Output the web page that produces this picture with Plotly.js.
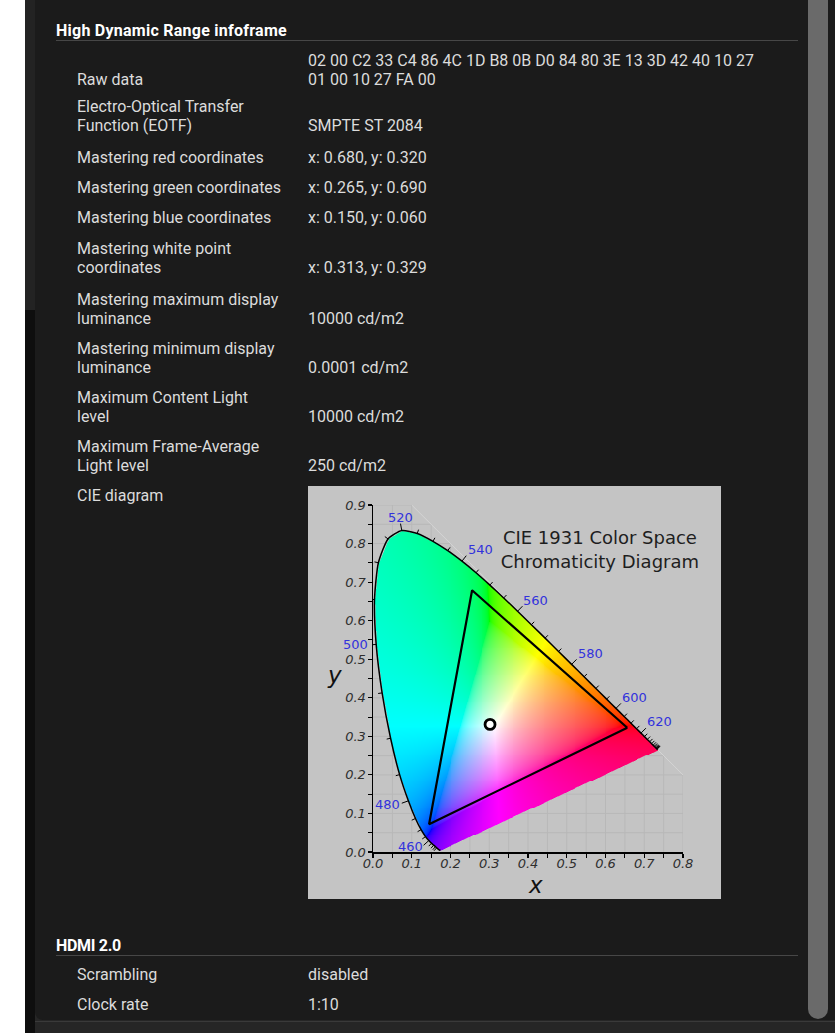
<!DOCTYPE html>
<html><head><meta charset="utf-8">
<script src="https://cdn.plot.ly/plotly-3.0.1.min.js"></script>
<style>
html,body{margin:0;padding:0;}
body{width:835px;height:1033px;overflow:hidden;background:#ffffff;position:relative;font-family:Roboto,'Noto Sans',sans-serif;}
.abs{position:absolute;}
.txt{font-size:16px;line-height:19px;color:#dcdcdc;white-space:nowrap;}
.hdr{font-size:16px;font-weight:700;line-height:19px;color:#ffffff;white-space:nowrap;}
.rule{height:1px;background:#474747;}
</style></head>
<body>
<div class="abs" style="left:25px;top:0;width:10px;height:310px;background:#232323"></div>
<div class="abs" style="left:25px;top:310px;width:10px;height:723px;background:#0e0e0e"></div>
<div class="abs" style="left:35px;top:0;width:800px;height:1033px;background:#262626"></div>
<div class="abs" style="left:35px;top:1021px;width:800px;height:1px;background:#3a3a3a"></div>
<div class="abs" style="left:35px;top:0;width:800px;height:1020px;background:#1b1b1b;border-bottom-left-radius:8px;"></div>
<div class="abs" style="left:808px;top:0;width:20px;height:1019px;background:#6a6a6a;border-radius:0 0 10px 10px"></div>
<div id="content"></div>
<div id="cie" class="abs" style="left:308px;top:486px;width:413px;height:413px"></div>
<script>
// ---------- DATA ----------
const hdrTitle = "High Dynamic Range infoframe";
const hdrLabels = [
  ["Raw data"],
  ["Electro-Optical Transfer", "Function (EOTF)"],
  ["Mastering red coordinates"],
  ["Mastering green coordinates"],
  ["Mastering blue coordinates"],
  ["Mastering white point", "coordinates"],
  ["Mastering maximum display", "luminance"],
  ["Mastering minimum display", "luminance"],
  ["Maximum Content Light", "level"],
  ["Maximum Frame-Average", "Light level"],
  ["CIE diagram"]
];
const rawBytes = ["02","00","C2","33","C4","86","4C","1D","B8","0B","D0","84","80","3E","13","3D","42","40","10","27","01","00","10","27","FA","00"];
const eotf = "SMPTE ST 2084";
const primX = [0.680, 0.265, 0.150];   // red, green, blue
const primY = [0.320, 0.690, 0.060];
const whiteX = 0.313, whiteY = 0.329;
const lumMax = 10000, lumMin = 0.0001, maxCLL = 10000, maxFALL = 250;
const lumUnit = "cd/m2";
const hdmiTitle = "HDMI 2.0";
const hdmiLabels = ["Scrambling", "Clock rate"];
const hdmiValues = ["disabled", "1:10"];

// CIE 1931 2° spectral locus (x, y) every 5 nm
const wl = [380,385,390,395,400,405,410,415,420,425,430,435,440,445,450,455,460,465,470,475,480,485,490,495,500,505,510,515,520,525,530,535,540,545,550,555,560,565,570,575,580,585,590,595,600,605,610,615,620,625,630,635,640,645,650,655,660,665,670,675,680,685,690,695,700];
const locX = [0.1741,0.1740,0.1738,0.1736,0.1733,0.1730,0.1726,0.1721,0.1714,0.1703,0.1689,0.1669,0.1644,0.1611,0.1566,0.1510,0.1440,0.1355,0.1241,0.1096,0.0913,0.0687,0.0454,0.0235,0.0082,0.0039,0.0139,0.0389,0.0743,0.1142,0.1547,0.1929,0.2296,0.2658,0.3016,0.3373,0.3731,0.4087,0.4441,0.4788,0.5125,0.5448,0.5752,0.6029,0.6270,0.6482,0.6658,0.6801,0.6915,0.7006,0.7079,0.7140,0.7190,0.7230,0.7260,0.7283,0.7300,0.7311,0.7320,0.7327,0.7334,0.7340,0.7344,0.7346,0.7347];
const locY = [0.0050,0.0050,0.0049,0.0049,0.0048,0.0048,0.0048,0.0048,0.0051,0.0058,0.0069,0.0086,0.0109,0.0138,0.0177,0.0227,0.0297,0.0399,0.0578,0.0868,0.1327,0.2007,0.2950,0.4127,0.5384,0.6548,0.7502,0.8120,0.8338,0.8262,0.8059,0.7816,0.7543,0.7243,0.6923,0.6589,0.6245,0.5896,0.5547,0.5202,0.4866,0.4544,0.4242,0.3965,0.3725,0.3514,0.3340,0.3197,0.3083,0.2993,0.2920,0.2859,0.2809,0.2770,0.2740,0.2717,0.2700,0.2689,0.2680,0.2673,0.2666,0.2660,0.2656,0.2654,0.2653];
const wlLabels = [460, 480, 500, 520, 540, 560, 580, 600, 620];
const chartTitle = "CIE 1931 Color Space<br>Chromaticity Diagram";
const xTitle = "x", yTitle = "y";
const xTicks = [0,0.1,0.2,0.3,0.4,0.5,0.6,0.7,0.8];
const yTicks = [0,0.1,0.2,0.3,0.4,0.5,0.6,0.7,0.8,0.9];

// ---------- PAGE TEXT ----------
const fmt = (x, y) => "x: " + x.toFixed(3) + ", y: " + y.toFixed(3);
const hdrValues = [
  [rawBytes.slice(0, 20).join(" "), rawBytes.slice(20).join(" ")],
  [eotf],
  [fmt(primX[0], primY[0])],
  [fmt(primX[1], primY[1])],
  [fmt(primX[2], primY[2])],
  [fmt(whiteX, whiteY)],
  [lumMax + " " + lumUnit],
  [lumMin + " " + lumUnit],
  [maxCLL + " " + lumUnit],
  [maxFALL + " " + lumUnit],
  []
];
const rowCenters = [79,125,157,187,217,267,318,367,416,465,495];
const content = document.getElementById('content');
function addText(lines, left, lastCenter, cls, extra) {
  if (!lines.length) return;
  const d = document.createElement('div');
  d.className = 'abs ' + cls;
  d.style.left = left + 'px';
  d.style.top = (lastCenter - 9.5 - (lines.length - 1) * 19) + 'px';
  if (extra) Object.assign(d.style, extra);
  d.innerHTML = lines.map(s => s.replace(/&/g,'&amp;').replace(/</g,'&lt;')).join('<br>');
  content.appendChild(d);
}
function addRule(top) {
  const d = document.createElement('div');
  d.className = 'abs rule';
  d.style.left = '56px'; d.style.top = top + 'px'; d.style.width = '742px';
  content.appendChild(d);
}
addText([hdrTitle], 56, 30, 'hdr', {letterSpacing: '0.25px'});
addRule(40);
hdrLabels.forEach((lab, i) => {
  addText(lab, 77, rowCenters[i], 'txt');
  addText(hdrValues[i], 308, rowCenters[i], 'txt');
});
addText([hdmiTitle], 56, 945, 'hdr', {letterSpacing: '-0.3px'});
addRule(955);
const hdmiCenters = [974, 1004];
hdmiLabels.forEach((lab, i) => {
  addText([lab], 77, hdmiCenters[i], 'txt');
  addText([hdmiValues[i]], 308, hdmiCenters[i], 'txt');
});

// ---------- CIE CHART ----------
const W = 413, H = 413, mL = 65, mR = 38, mT = 19, mB = 47;
const xRange = [0, 0.8], yRange = [0, 0.9];
const sx = (W - mL - mR) / (xRange[1] - xRange[0]);
const sy = (H - mT - mB) / (yRange[1] - yRange[0]);

const n = locX.length;
function inPoly(x, y) {
  let c = false;
  for (let i = 0, j = n - 1; i < n; j = i++) {
    const xi = locX[i], yi = locY[i], xj = locX[j], yj = locY[j];
    if (((yi > y) !== (yj > y)) && (x < (xj - xi) * (y - yi) / (yj - yi) + xi)) c = !c;
  }
  return c;
}
function gam(v) { return v <= 0.0031308 ? 12.92 * v : 1.055 * Math.pow(v, 1 / 2.4) - 0.055; }
function xy2rgb(x, y) {
  const X = x / y, Y = 1, Z = (1 - x - y) / y;
  let r = 3.2406 * X - 1.5372 * Y - 0.4986 * Z;
  let g = -0.9689 * X + 1.8758 * Y + 0.0415 * Z;
  let b = 0.0557 * X - 0.2040 * Y + 1.0570 * Z;
  const m = Math.min(r, g, b);
  if (m < 0) { r -= m; g -= m; b -= m; }
  const M = Math.max(r, g, b);
  r /= M; g /= M; b /= M;
  return [Math.round(255 * gam(r)), Math.round(255 * gam(g)), Math.round(255 * gam(b))];
}
const step = 0.0025;
const nxc = Math.ceil(0.74 / step) + 1, nyc = Math.ceil(0.84 / step) + 1;
const img = [];
for (let j = 0; j < nyc; j++) {
  const y = j * step, row = [];
  for (let i = 0; i < nxc; i++) {
    const x = i * step;
    let cnt = 0;
    const q = step / 4;
    if (inPoly(x - q, y - q)) cnt++;
    if (inPoly(x + q, y - q)) cnt++;
    if (inPoly(x - q, y + q)) cnt++;
    if (inPoly(x + q, y + q)) cnt++;
    if (cnt === 0) { row.push([0, 0, 0, 0]); continue; }
    const c = xy2rgb(Math.max(x, 0.001), Math.max(y, 0.003));
    row.push([c[0], c[1], c[2], cnt / 4]);
  }
  img.push(row);
}

// background grid (clipped to x + y <= 1), drawn below the traces
const shapes = [];
const gridLine = {color: '#b8b8b8', width: 1};
for (let k = 1; k <= 16; k++) {
  const x = k * 0.05;
  shapes.push({type: 'line', layer: 'below', xref: 'x', yref: 'y', x0: x, x1: x, y0: 0, y1: Math.min(0.9, 1 - x), line: gridLine});
}
for (let k = 1; k <= 18; k++) {
  const y = k * 0.05;
  shapes.push({type: 'line', layer: 'below', xref: 'x', yref: 'y', x0: 0, x1: Math.min(0.8, 1 - y), y0: y, y1: y, line: gridLine});
}
shapes.push({type: 'line', layer: 'below', xref: 'x', yref: 'y', x0: 0.1, y0: 0.9, x1: 0.8, y1: 0.2, line: {color: '#d4d4d4', width: 1}});

// wavelength ticks along the locus
const tx = [], ty = [];
for (let i = 1; i < n - 1; i++) {
  const w = wl[i];
  if (w < 440 || w > 680) continue;
  let dx = (locX[i + 1] - locX[i - 1]) * sx, dy = (locY[i + 1] - locY[i - 1]) * sy;
  const L = Math.hypot(dx, dy) || 1; dx /= L; dy /= L;
  const nxv = -dy, nyv = dx;
  const len = wlLabels.includes(w) ? 7 : 4;
  tx.push(locX[i], locX[i] + nxv * len / sx, null);
  ty.push(locY[i], locY[i] + nyv * len / sy, null);
}

const labelShift = {460:[-18.5,-5.5],480:[-20.8,-3.2],500:[-20.9,0],520:[-1.5,12.8],540:[18.3,11.8],560:[18.4,11.2],580:[18.7,11.1],600:[18.3,10.7],620:[18.6,11.4]};
const annotations = wlLabels.map(w => {
  const i = wl.indexOf(w);
  return {x: locX[i], y: locY[i], xref: 'x', yref: 'y', text: String(w), showarrow: false,
    xanchor: 'center', yanchor: 'middle', xshift: labelShift[w][0], yshift: labelShift[w][1],
    font: {family: 'DejaVu Sans', size: 13, color: '#3232dc'}};
});
const axTitleFont = {family: 'DejaVu Sans', size: 23, color: '#111', style: 'italic'};
annotations.push({text: xTitle, xref: 'paper', yref: 'paper', x: 0.5226, y: -0.0545, xanchor: 'center', yanchor: 'top', showarrow: false, borderpad: 0, font: axTitleFont});
annotations.push({text: yTitle, xref: 'paper', yref: 'paper', x: -0.1226, y: 0.51, xanchor: 'center', yanchor: 'middle', showarrow: false, font: axTitleFont});

const tickFont = {family: 'DejaVu Sans', size: 13, color: '#2e2e2e', style: 'italic'};
const traces = [
  {type: 'image', z: img, x0: 0, y0: 0, dx: step, dy: step, colormodel: 'rgba', hoverinfo: 'skip'},
  {type: 'scatter', mode: 'lines', x: tx, y: ty, line: {color: '#000', width: 1}, hoverinfo: 'skip', showlegend: false, cliponaxis: false},
  {type: 'scatter', mode: 'lines', x: locX, y: locY, line: {color: '#000', width: 1.5, shape: 'spline', smoothing: 0.6}, hoverinfo: 'skip', showlegend: false, cliponaxis: false},
  {type: 'scatter', mode: 'lines', x: primX.concat([primX[0]]), y: primY.concat([primY[0]]), xaxis: 'x2', yaxis: 'y2',
    line: {color: '#000', width: 2.2}, hoverinfo: 'skip', showlegend: false},
  {type: 'scatter', mode: 'markers', x: [whiteX], y: [whiteY], xaxis: 'x2', yaxis: 'y2',
    marker: {symbol: 'circle', size: 10, color: '#ffffff', line: {color: '#000', width: 2.8}}, hoverinfo: 'skip', showlegend: false}
];
// overlay calibration so the drawn gamut matches the diagram image
const ax = 0.965, bx = 0.0, ay = 0.9635, by = 0.014;
const axisCommon = {autorange: false, scaleanchor: false, showgrid: false, zeroline: false,
  showline: true, linecolor: '#000', linewidth: 1.5, ticks: 'outside', ticklen: 4, tickwidth: 1.2, tickcolor: '#000',
  tickfont: tickFont,
  minor: {dtick: 0.05, tick0: 0, ticks: 'outside', ticklen: 4, tickwidth: 1, tickcolor: '#000', showgrid: false}};
const layout = {
  width: W, height: H,
  margin: {l: mL, r: mR, t: mT, b: mB, pad: 0},
  paper_bgcolor: '#c4c4c4', plot_bgcolor: '#c4c4c4',
  showlegend: false,
  title: {text: chartTitle, font: {family: 'DejaVu Sans', size: 18, color: '#1e1e1e'},
    x: 0.732, xref: 'paper', xanchor: 'center', y: 0.8865, yref: 'paper', yanchor: 'middle'},
  xaxis: Object.assign({}, axisCommon, {range: xRange, tickvals: xTicks, ticktext: xTicks.map(v => v.toFixed(1)), ticklabelstandoff: -5}),
  yaxis: Object.assign({}, axisCommon, {range: yRange, tickvals: yTicks, ticktext: yTicks.map(v => v.toFixed(1)), ticklabelstandoff: -1}),
  xaxis2: {overlaying: 'x', anchor: 'y2', visible: false, autorange: false,
    range: [(xRange[0] - bx) / ax, (xRange[1] - bx) / ax]},
  yaxis2: {overlaying: 'y', anchor: 'x2', visible: false, autorange: false,
    range: [(yRange[0] - by) / ay, (yRange[1] - by) / ay]},
  shapes: shapes,
  annotations: annotations
};
Plotly.newPlot('cie', traces, layout, {staticPlot: true, displayModeBar: false});
</script>
</body></html>
